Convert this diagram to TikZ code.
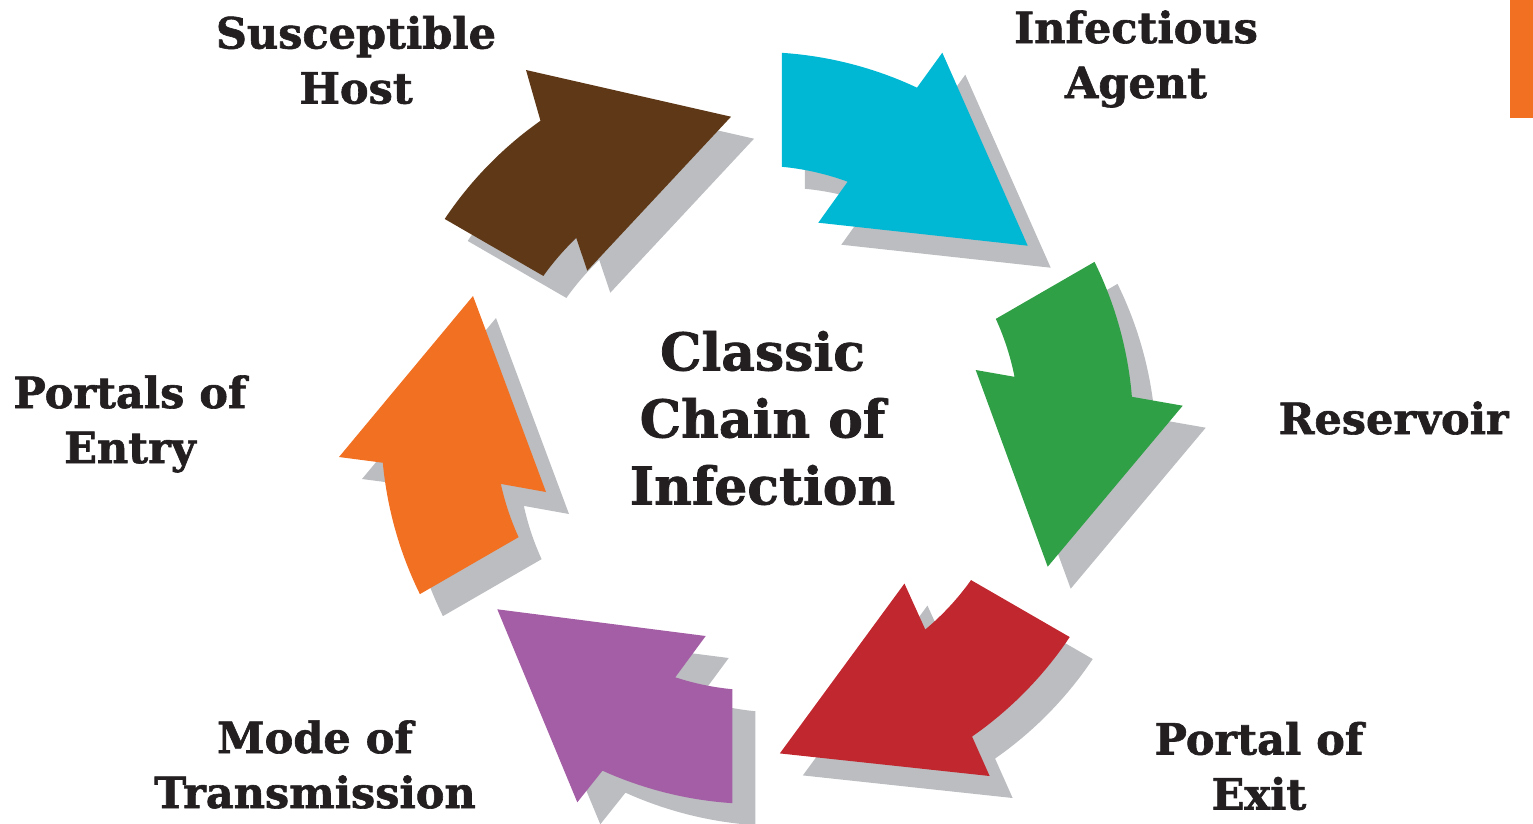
\documentclass[tikz,border=0pt]{standalone}
\usepackage{fontspec}
\setmainfont{DejaVu Serif}[BoldFeatures={FakeBold=1.4}]
\definecolor{arcyan}{HTML}{00B8D4}
\definecolor{argreen}{HTML}{2FA046}
\definecolor{arred}{HTML}{C1272E}
\definecolor{arpurple}{HTML}{A45EA5}
\definecolor{arorange}{HTML}{F27022}
\definecolor{arbrown}{HTML}{5F3817}
\definecolor{shadowgray}{HTML}{BBBDC0}
\definecolor{txt}{HTML}{231F20}
\tikzset{
  pics/carrow/.style n args={7}{code={
    \path[pic actions] (#1:376) arc[start angle=#1, end angle=#2, radius=376pt]
      -- (#3) -- (#4) -- (#5) -- (#6:262.4)
      arc[start angle=#6, end angle=#7, radius=262.4pt] -- cycle;
  }},
  lbl/.style={text=txt, inner sep=0pt, align=center, font=\fontsize{43}{55}\selectfont\bfseries},
  ctr/.style={text=txt, inner sep=0pt, align=center, font=\fontsize{52}{67}\selectfont\bfseries}
}
\begin{document}
\begin{tikzpicture}[x=1pt,y=1pt]
\useasboundingbox (0,0) rectangle (1533,-823);
\coordinate (sc) at (780.2,-450);
\coordinate (c) at (757.2,-428);
% shadows
\pic[fill=shadowgray] at (sc) {carrow={86.22}{64.85}{185.1,375.3}{270.5,182.3}{61.1,205.3}{69.83}{84.58}};
\pic[fill=shadowgray] at (sc) {carrow={26.22}{4.76}{425.5,22.3}{290.5,-138.7}{218.5,58}{11.25}{24.58}};
\pic[fill=shadowgray] at (sc) {carrow={-33.78}{-55.15}{-56.26:418.5}{-86.02:326.2}{-46.57:214.2}{-50.17}{-35.42}};
\pic[fill=shadowgray] at (sc) {carrow={266.22}{245.7}{-179.9,-374.3}{-259.9,-181.3}{-51.5,-208}{251.8}{264.58}};
\pic[fill=shadowgray] at (sc) {carrow={206.22}{185.3}{-418.2,-29}{-284.2,132}{-211.2,-64}{192.3}{204.58}};
\pic[fill=shadowgray] at (sc) {carrow={146.22}{125.2}{-231.2,358}{-26.2,311.3}{-169.9,157.3}{133.6}{144.58}};
% arrows
\pic[fill=arcyan] at (c) {carrow={86.22}{64.85}{185.1,375.3}{270.5,182.3}{61.1,205.3}{69.83}{84.58}};
\pic[fill=argreen] at (c) {carrow={26.22}{4.76}{425.5,22.3}{290.5,-138.7}{218.5,58}{11.25}{24.58}};
\pic[fill=arred] at (c) {carrow={-33.78}{-55.15}{-56.26:418.5}{-86.02:326.2}{-46.57:214.2}{-50.17}{-35.42}};
\pic[fill=arpurple] at (c) {carrow={266.22}{245.7}{-179.9,-374.3}{-259.9,-181.3}{-51.5,-208}{251.8}{264.58}};
\pic[fill=arorange] at (c) {carrow={206.22}{185.3}{-418.2,-29}{-284.2,132}{-211.2,-64}{192.3}{204.58}};
\pic[fill=arbrown] at (c) {carrow={146.22}{125.2}{-231.2,358}{-26.2,311.3}{-169.9,157.3}{133.6}{144.58}};
% orange bar
\fill[arorange] (1510,0) rectangle (1533,-117.7);
% labels
\node[lbl] (host) at (356,-65) {\strut Susceptible\\Host\strut};
\node[lbl] (agent) at (1136,-59.5) {\strut Infectious\\Agent\strut};
\node[lbl, anchor=base] (res) at (1393.7,-434) {Reservoir};
\node[lbl] (entry) at (130,-424.5) {\strut Portals of\\Entry\strut};
\node[lbl] (mode) at (315,-769.5) {\strut Mode of\\Transmission\strut};
\node[lbl] (exit) at (1259,-771) {\strut Portal of\\Exit\strut};
\node[ctr] (title) at (762.5,-424) {\strut Classic\\Chain of\\Infection\strut};
\end{tikzpicture}
\end{document}
